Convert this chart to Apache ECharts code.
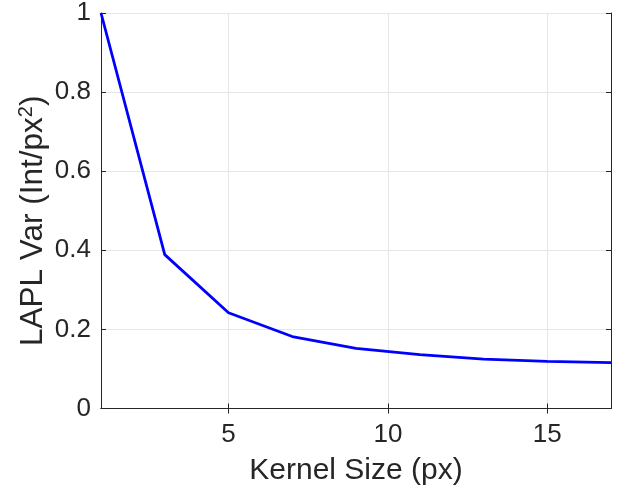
<!DOCTYPE html>
<html>
<head>
<meta charset="utf-8">
<script src="https://cdn.jsdelivr.net/npm/echarts@6/dist/echarts.min.js"></script>
<style>
  html, body { margin: 0; padding: 0; background: #fff; }
  #chart { width: 623px; height: 498px; }
</style>
</head>
<body>
<div id="chart"></div>
<script>
// kernel size vs laplacian variance
const kernelSize = [1, 3, 5, 7, 9, 11, 13, 15, 17];
const laplVar = [1, 0.389, 0.242, 0.182, 0.152, 0.136, 0.125, 0.119, 0.116];
const xTicks = [5, 10, 15];

const axisColor = '#262626';
const font = 'Liberation Sans, Arial, Helvetica, sans-serif';

const chart = echarts.init(document.getElementById('chart'));

const lineData = kernelSize.map((k, i) => [k, laplVar[i]]);

chart.setOption({
  animation: false,
  textStyle: { fontFamily: font },
  grid: { left: 101, right: 12, top: 9, bottom: 89.5 },
  xAxis: [
    {
      type: 'value',
      min: 1,
      max: 17,
      name: 'Kernel Size (px)',
      nameLocation: 'middle',
      nameGap: 47,
      nameMoveOverlap: false,
      nameTextStyle: { fontSize: 30, color: axisColor, fontFamily: font },
      axisLine: { lineStyle: { color: axisColor, width: 1 } },
      axisTick: { inside: true, length: 5, customValues: xTicks, lineStyle: { color: axisColor } },
      axisLabel: { customValues: xTicks, fontSize: 26, color: axisColor, margin: 13, fontFamily: font },
      splitLine: { show: true, lineStyle: { color: '#e6e6e6', width: 1 } }
    },
    {
      type: 'value',
      position: 'top',
      min: 1,
      max: 17,
      axisLine: { show: true, lineStyle: { color: axisColor, width: 1 } },
      axisTick: { inside: true, length: 5, customValues: xTicks, lineStyle: { color: axisColor } },
      axisLabel: { show: false },
      splitLine: { show: false }
    }
  ],
  yAxis: [
    {
      type: 'value',
      min: 0,
      max: 1,
      interval: 0.2,
      name: 'LAPL Var (Int/px{sup|2})',
      nameLocation: 'middle',
      nameGap: 50,
      nameMoveOverlap: false,
      nameTextStyle: {
        fontSize: 31.5,
        color: axisColor,
        fontFamily: font,
        padding: [0, 20, 0, 0],
        rich: {
          sup: { fontSize: 20, color: axisColor, fontFamily: font, verticalAlign: 'bottom', padding: [0, 0, 15, 0] }
        }
      },
      axisLine: { show: true, lineStyle: { color: axisColor, width: 1 } },
      axisTick: { show: true, inside: true, length: 5, lineStyle: { color: axisColor } },
      axisLabel: { fontSize: 26, color: axisColor, margin: 10, fontFamily: font },
      splitLine: { show: true, lineStyle: { color: '#e6e6e6', width: 1 } }
    },
    {
      type: 'value',
      position: 'right',
      min: 0,
      max: 1,
      interval: 0.2,
      axisLine: { show: true, lineStyle: { color: axisColor, width: 1 } },
      axisTick: { show: true, inside: true, length: 5, lineStyle: { color: axisColor } },
      axisLabel: { show: false },
      splitLine: { show: false }
    }
  ],
  series: [
    {
      type: 'line',
      data: lineData,
      showSymbol: false,
      lineStyle: { color: '#0000ff', width: 2.8 },
      itemStyle: { color: '#0000ff' }
    }
  ]
});
</script>
</body>
</html>
